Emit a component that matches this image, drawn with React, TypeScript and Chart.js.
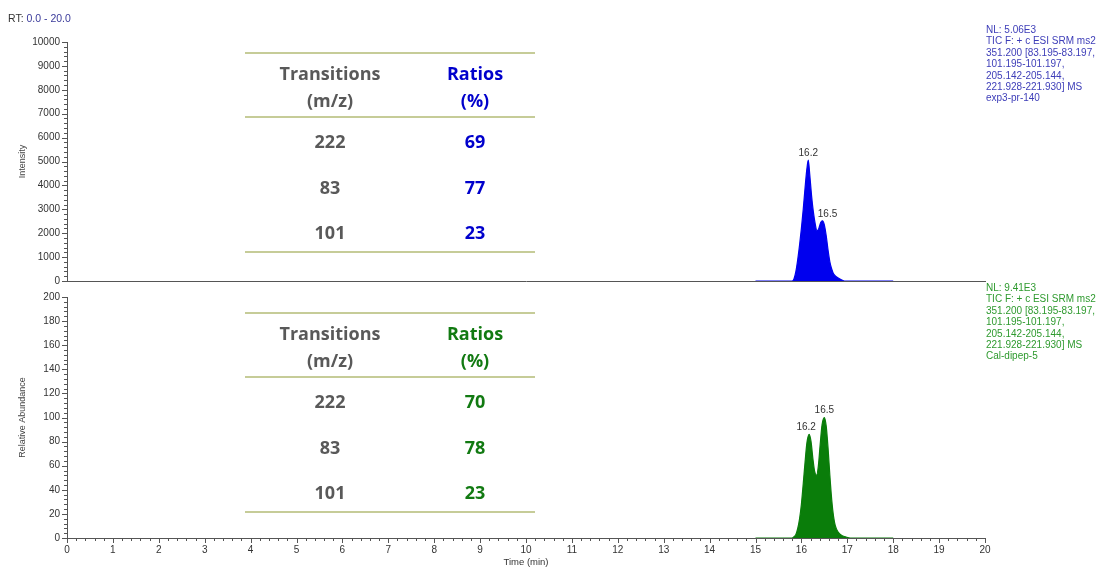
import React, { useEffect, useRef } from "react";
import { Chart, registerables } from "chart.js";

Chart.register(...registerables);

// ---------- data ----------
const timeTop = [15.0, 15.8, 15.84, 15.88, 15.92, 15.96, 16.0, 16.04, 16.08, 16.12, 16.15, 16.18, 16.22, 16.26, 16.3, 16.34, 16.38, 16.42, 16.46, 16.5, 16.54, 16.58, 16.62, 16.66, 16.7, 16.76, 16.82, 16.88, 16.94, 18.0];
const intensityTop = [0, 0, 100, 400, 900, 1500, 2200, 3000, 3900, 4700, 5060, 4500, 3600, 2900, 2400, 2100, 2200, 2450, 2520, 2350, 1900, 1300, 800, 500, 300, 180, 100, 40, 0, 0];

const timeBottom = [15.0, 15.8, 15.84, 15.88, 15.92, 15.96, 16.0, 16.04, 16.08, 16.12, 16.17, 16.21, 16.25, 16.29, 16.33, 16.37, 16.41, 16.45, 16.5, 16.54, 16.58, 16.62, 16.66, 16.7, 16.74, 16.8, 16.88, 16.96, 17.06, 18.0];
const abundanceBottom = [0, 0, 1, 3, 8, 16, 28, 45, 63, 79, 86, 80, 66, 55, 52, 60, 78, 94, 100, 93, 75, 52, 32, 18, 10, 5, 2, 1, 0, 0];

const peakTimesTop = [16.15, 16.46];
const peakValuesTop = [5060, 2520];
const peakLabelsTop = ["16.2", "16.5"];
const peakTimesBottom = [16.17, 16.5];
const peakValuesBottom = [86, 100];
const peakLabelsBottom = ["16.2", "16.5"];

const xTicks = [0, 1, 2, 3, 4, 5, 6, 7, 8, 9, 10, 11, 12, 13, 14, 15, 16, 17, 18, 19, 20];
const yTicksTop = [0, 1000, 2000, 3000, 4000, 5000, 6000, 7000, 8000, 9000, 10000];
const yTicksBottom = [0, 20, 40, 60, 80, 100, 120, 140, 160, 180, 200];

const transitions = ["222", "83", "101"];
const ratiosTop = [69, 77, 23];
const ratiosBottom = [70, 78, 23];

const infoTop = ["NL: 5.06E3", "TIC F: + c ESI SRM ms2", "351.200 [83.195-83.197,", "101.195-101.197,", "205.142-205.144,", "221.928-221.930]  MS", "exp3-pr-140"];
const infoBottom = ["NL: 9.41E3", "TIC F: + c ESI SRM ms2", "351.200 [83.195-83.197,", "101.195-101.197,", "205.142-205.144,", "221.928-221.930]  MS", "Cal-dipep-5"];

// ---------- styling ----------
const FONT = "'Liberation Sans', Arial, sans-serif";
const AXIS = "#555555";
const W = 1105;
const H = 570;

const axisTicksPlugin = {
  id: "axisTicks",
  afterDraw(chart: any, _args: any, opts: any) {
    const ctx = chart.ctx;
    const { left, bottom } = chart.chartArea;
    const y = chart.scales.y;
    const x = chart.scales.x;
    ctx.save();
    ctx.strokeStyle = AXIS;
    ctx.lineWidth = 1;
    ctx.beginPath();
    const yMajor = opts.yMajor as number;
    const ny = Math.round((y.max - y.min) / (yMajor / 5));
    for (let i = 0; i <= ny; i++) {
      const v = y.min + (i * yMajor) / 5;
      const py = Math.round(y.getPixelForValue(v)) + 0.5;
      const len = i % 5 === 0 ? 5 : 3;
      ctx.moveTo(left - len, py);
      ctx.lineTo(left, py);
    }
    if (opts.xTicks) {
      const nx = Math.round((x.max - x.min) / 0.2);
      for (let i = 0; i <= nx; i++) {
        const v = x.min + i * 0.2;
        const px = Math.round(x.getPixelForValue(v)) + 0.5;
        const len = i % 5 === 0 ? 5 : 3;
        ctx.moveTo(px, bottom);
        ctx.lineTo(px, bottom + len);
      }
    }
    ctx.stroke();

    // peak labels
    const times: number[] = opts.peakTimes;
    const vals: number[] = opts.peakValues;
    const labels: string[] = opts.peakLabels;
    ctx.fillStyle = "#333333";
    ctx.font = `10px ${FONT}`;
    ctx.textAlign = "center";
    ctx.textBaseline = "bottom";
    for (let i = 0; i < labels.length; i++) {
      const px = x.getPixelForValue(times[i]) + (opts.labelDx ? opts.labelDx[i] : 0);
      const py = y.getPixelForValue(vals[i]);
      ctx.fillText(labels[i], px, py - 2);
    }
    ctx.restore();
  },
};

function makeConfig(
  times: number[],
  values: number[],
  color: string,
  yTicks: number[],
  yTitle: string,
  top: number,
  bottomAxis: boolean,
  peakTimes: number[],
  peakValues: number[],
  peakLabels: string[],
  labelDx: number[]
): any {
  const yMax = yTicks[yTicks.length - 1];
  return {
    type: "line",
    data: {
      datasets: [
        {
          data: times.map((t, i) => ({ x: t, y: values[i] })),
          borderColor: color,
          backgroundColor: color,
          borderWidth: 1.2,
          fill: "origin",
          pointRadius: 0,
          cubicInterpolationMode: "monotone",
        },
      ],
    },
    options: {
      responsive: false,
      animation: false,
      devicePixelRatio: 1,
      layout: { padding: { top, right: W - 985, left: 0, bottom: 0 } },
      plugins: {
        legend: { display: false },
        tooltip: { enabled: false },
        axisTicks: {
          yMajor: yTicks[1] - yTicks[0],
          xTicks: bottomAxis,
          peakTimes,
          peakValues,
          peakLabels,
          labelDx,
        },
      },
      scales: {
        x: {
          type: "linear",
          min: 0,
          max: 20,
          afterBuildTicks: (s: any) => {
            s.ticks = xTicks.map((v) => ({ value: v }));
          },
          afterFit: (s: any) => {
            s.height = bottomAxis ? H - 538 : H - 281;
          },
          grid: { display: false, drawTicks: false },
          border: { display: true, color: AXIS, width: 1 },
          ticks: {
            display: bottomAxis,
            padding: 6,
            color: "#333333",
            font: { family: FONT, size: 10 },
            maxRotation: 0,
            autoSkip: false,
            callback: (v: any) => String(v),
          },
          title: {
            display: bottomAxis,
            text: "Time (min)",
            color: "#333333",
            font: { family: FONT, size: 9.5 },
            padding: { top: 0, bottom: 2 },
          },
        },
        y: {
          type: "linear",
          min: 0,
          max: yMax,
          afterBuildTicks: (s: any) => {
            s.ticks = yTicks.map((v) => ({ value: v }));
          },
          afterFit: (s: any) => {
            s.width = 67;
          },
          grid: { display: false, drawTicks: false },
          border: { display: true, color: AXIS, width: 1 },
          ticks: {
            padding: 7,
            color: "#333333",
            font: { family: FONT, size: 10 },
            autoSkip: false,
            callback: (v: any) => String(v),
          },
          title: {
            display: true,
            text: yTitle,
            color: "#444444",
            font: { family: FONT, size: 9 },
            padding: { top: 17, bottom: 0 },
          },
        },
      },
    },
    plugins: [axisTicksPlugin],
  };
}

function RatioTable(props: { dy: number; ratios: number[]; color: string }) {
  const { dy, ratios, color } = props;
  const lineStyle = (y: number): React.CSSProperties => ({
    position: "absolute",
    left: 245,
    width: 290,
    top: y + dy - 1,
    height: 2,
    background: "#c6cc98",
  });
  const txt = (x: number, y: number, s: string, c: string) => (
    <div
      key={`${x}-${y}-${s}`}
      style={{
        position: "absolute",
        left: x,
        top: y + dy,
        transform: "translate(-50%, -50%)",
        whiteSpace: "nowrap",
        fontFamily: "'Open Sans', Lato, sans-serif",
        fontWeight: 700,
        fontSize: 18,
        color: c,
        lineHeight: 1,
      }}
    >
      {s}
    </div>
  );
  const rowY = [141, 187, 232];
  return (
    <>
      <div style={lineStyle(53)} />
      <div style={lineStyle(117)} />
      <div style={lineStyle(252)} />
      {txt(330, 73, "Transitions", "#595959")}
      {txt(330, 100, "(m/z)", "#595959")}
      {txt(475, 73, "Ratios", color)}
      {txt(475, 100, "(%)", color)}
      {transitions.map((t, i) => txt(330, rowY[i], t, "#595959"))}
      {ratios.map((r, i) => txt(475, rowY[i], String(r), color))}
    </>
  );
}

function InfoBlock(props: { top: number; lines: string[]; color: string }) {
  return (
    <div
      style={{
        position: "absolute",
        left: 986,
        top: props.top,
        fontFamily: FONT,
        fontSize: 10,
        lineHeight: "11.4px",
        color: props.color,
        whiteSpace: "nowrap",
      }}
    >
      {props.lines.map((l, i) => (
        <div key={i}>{l}</div>
      ))}
    </div>
  );
}

export default function App() {
  const topRef = useRef<HTMLCanvasElement>(null);
  const botRef = useRef<HTMLCanvasElement>(null);

  useEffect(() => {
    const c1 = new Chart(
      topRef.current as HTMLCanvasElement,
      makeConfig(timeTop, intensityTop, "#0000ee", yTicksTop, "Intensity", 42, false, peakTimesTop, peakValuesTop, peakLabelsTop, [0, 5])
    );
    const c2 = new Chart(
      botRef.current as HTMLCanvasElement,
      makeConfig(timeBottom, abundanceBottom, "#0a7d0a", yTicksBottom, "Relative Abundance", 297, true, peakTimesBottom, peakValuesBottom, peakLabelsBottom, [-3, 0])
    );
    return () => {
      c1.destroy();
      c2.destroy();
    };
  }, []);

  const canvasStyle: React.CSSProperties = { position: "absolute", left: 0, top: 0 };

  return (
    <div style={{ position: "fixed", left: 0, top: 0, width: W, height: H, background: "#ffffff", overflow: "hidden" }}>
      <canvas ref={topRef} width={W} height={H} style={canvasStyle} />
      <canvas ref={botRef} width={W} height={H} style={canvasStyle} />
      <div style={{ position: "absolute", left: 8, top: 12, fontFamily: FONT, fontSize: 10.5, lineHeight: "12px", whiteSpace: "nowrap" }}>
        <span style={{ color: "#333333" }}>RT: </span>
        <span style={{ color: "#3a3a9a" }}>0.0 - 20.0</span>
      </div>
      <InfoBlock top={24} lines={infoTop} color="#3d3db8" />
      <InfoBlock top={282} lines={infoBottom} color="#2e9a2e" />
      <RatioTable dy={0} ratios={ratiosTop} color="#0000cc" />
      <RatioTable dy={260} ratios={ratiosBottom} color="#127a12" />
    </div>
  );
}
